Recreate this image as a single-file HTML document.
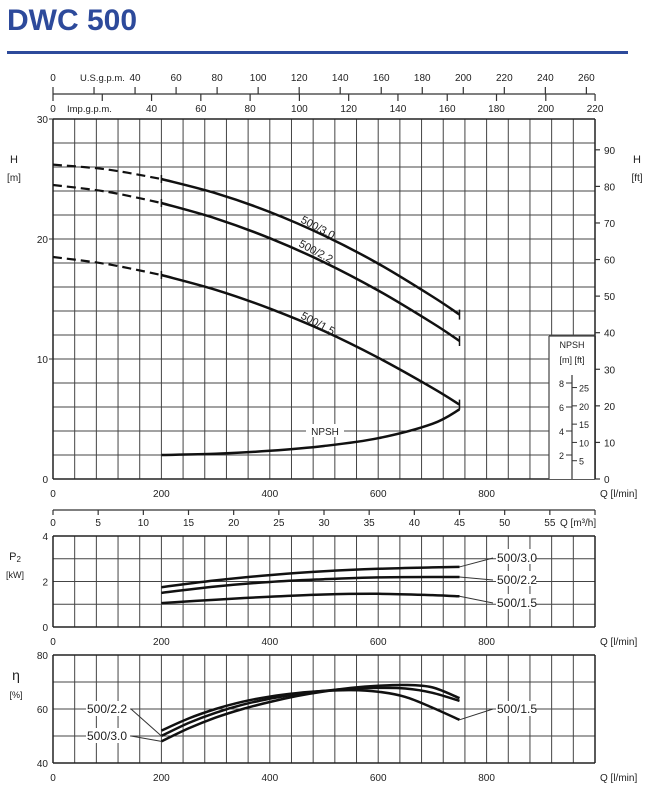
<!DOCTYPE html>
<html><head><meta charset="utf-8"><style>
html,body{margin:0;padding:0;background:#fff;width:654px;height:800px;overflow:hidden}
svg{display:block}
text{font-family:"Liberation Sans",sans-serif;fill:#222}
</style></head><body>
<svg id="s" width="654" height="800" viewBox="0 0 654 800" xmlns="http://www.w3.org/2000/svg">
<text x="7" y="30" style="font-size:30px;font-weight:bold;fill:#2d4a9b">DWC 500</text>
<rect x="7" y="51" width="621" height="3" fill="#2d4a9b"/>
</svg>
<script>
var s=document.getElementById('s'),o='';
var X0=53,X1=595,kx=0.542;
function qx(q){return X0+kx*q}
function L(x1,y1,x2,y2,w,c){o+='<line x1="'+x1+'" y1="'+y1+'" x2="'+x2+'" y2="'+y2+'" stroke="'+(c||'#333')+'" stroke-width="'+(w||1)+'"/>';}
function T(x,y,t,sz,a){o+='<text x="'+x+'" y="'+y+'" font-size="'+(sz||10)+'" text-anchor="'+(a||'middle')+'">'+t+'</text>';}
function P(p,w,dash){var d='M'+p[0][0].toFixed(1)+','+p[0][1].toFixed(1);
 for(var i=0;i<p.length-1;i++){var a=p[i-1]||p[i],b=p[i],c=p[i+1],e=p[i+2]||c;
  d+=' C'+(b[0]+(c[0]-a[0])/6).toFixed(1)+','+(b[1]+(c[1]-a[1])/6).toFixed(1)+' '+(c[0]-(e[0]-b[0])/6).toFixed(1)+','+(c[1]-(e[1]-b[1])/6).toFixed(1)+' '+c[0].toFixed(1)+','+c[1].toFixed(1);}
 o+='<path d="'+d+'" fill="none" stroke="#111" stroke-width="'+(w||2.5)+'" stroke-linejoin="round"'+(dash?' stroke-dasharray="'+dash+'"':'')+'/>';}
function grid(yt,yb,dy){for(var i=0;i<=25;i++){var x=X0+i*542/25;L(x,yt,x,yb,1,'#444');}for(var y=yt;y<=yb+0.5;y+=dy)L(X0,y,X1,y,1,'#444');L(X0,yt,X0,yb,1.5,'#222');L(X0,yb,X1,yb,1.5,'#222');L(X1,yt,X1,yb,1.5,'#222');L(X0,yt,X1,yt,1.5,'#222');}
// top axes
L(X0,94,X1,94,1.2);
var us=[0,40,60,80,100,120,140,160,180,200,220,240,260];
for(var v=0;v<=260;v+=20){var x=X0+v*3.785*kx;L(x,94,x,87,1.2);}
us.forEach(function(v){if(v==0)return;T(X0+v*3.785*kx,81,v);});T(X0,81,'0');T(80,81,'U.S.g.p.m.',9.5,'start');
for(var v=0;v<=220;v+=20){var x=X0+v*4.546*kx;L(x,94,x,101,1.2);}
[40,60,80,100,120,140,160,180,200,220].forEach(function(v){T(X0+v*4.546*kx,112,v);});T(X0,112,'0');T(67,112,'Imp.g.p.m.',9.5,'start');
// main grid
grid(119,479,24);
T(48,123,'30',10,'end');T(48,243,'20',10,'end');T(48,363,'10',10,'end');T(48,483,'0',10,'end');
L(X0-4,119,X0,119);L(X0-4,239,X0,239);L(X0-4,359,X0,359);
T(14,163,'H',11);T(14,181,'[m]',10);
for(var f=0;f<=90;f+=10){var y=479-f*0.3048*12;L(X1,y,X1+5,y,1.2);T(X1+9,y+4,f,10,'start');}
T(637,163,'H',11);T(637,181,'[ft]',10);
[0,200,400,600,800].forEach(function(q){T(qx(q),497,q);});
T(600,497,'Q [l/min]',10,'start');
// NPSH box
o+='<rect x="549" y="336" width="46" height="143" fill="#fff"/>';
L(549,336,549,479,1.2,'#444');L(549,336,595,336,1.2,'#444');L(X1,336,X1,479,1.5,'#222');
T(572,348,'NPSH',9);T(572,363,'[m]  [ft]',9);
L(572,375,572,479,1.2);
[2,4,6,8].forEach(function(m){var y=479-m*12;L(566,y,572,y);T(564,y+4,m,9,'end');});
[5,10,15,20,25].forEach(function(f){var y=479-f*0.3048*12;L(572,y,577,y);T(579,y+4,f,9,'start');});
// m3/h axis
L(X0,510,X1,510,1.2);
for(var m=0;m<=60;m+=5){var x=qx(m*16.667);if(x>X1+1)break;L(x,510,x,515,1.2);if(m<=55)T(x,526,m);}
T(560,526,'Q [m³/h]',10,'start');
// curves
var xs=[0,100,200,300,400,500,600,700,750];
function curve(ys){return xs.map(function(q,i){return [qx(q),ys[i]]});}
var c30=curve([164.6,169.5,179,193.2,212,235.5,263.6,296.5,314.6]);
var c22=curve([185,191.8,203,218.4,238.2,262.2,290.5,323,341]);
var c15=curve([257,264.1,275,289.8,308.6,331,357.7,387.9,404.6]);
[c30,c22,c15].forEach(function(c){P(c.slice(0,3),2.2,'9,5');P(c.slice(2),2.5);
 L(c[2][0],c[2][1]-4,c[2][0],c[2][1]+4,1.5,'#111');L(c[8][0],c[8][1]-5,c[8][0],c[8][1]+5,1.5,'#111');});
P([[qx(200),455],[qx(300),453.8],[qx(400),450.8],[qx(500),446],[qx(600),438.2],[qx(700),423.8],[qx(750),409.4]],2.5);
o+='<g transform="translate(300,222) rotate(28)"><text font-size="11">500/3.0</text></g>';
o+='<g transform="translate(298,246) rotate(28)"><text font-size="11">500/2.2</text></g>';
o+='<g transform="translate(300,318) rotate(28)"><text font-size="11">500/1.5</text></g>';
o+='<rect x="306" y="424" width="38" height="13" fill="#fff"/>';T(325,435,'NPSH',10);
// P2 panel
grid(536,627,22.75);
[0,1,2,3,4].forEach(function(p){if(p%2==0)T(48,627-p*22.75+4,p,10,'end');});
T(15,560,'P<tspan font-size="8" dy="2">2</tspan>',11);T(15,578,'[kW]',9);
[0,200,400,600,800].forEach(function(q){T(qx(q),645,q);});T(600,645,'Q [l/min]',10,'start');
function pc(v){return [[200,v[0]],[300,v[1]],[400,v[2]],[500,v[3]],[600,v[4]],[700,v[5]],[750,v[6]]].map(function(p){return [qx(p[0]),627-p[1]*22.75]});}
P(pc([1.75,2.05,2.28,2.45,2.56,2.62,2.64]),2.5);
P(pc([1.5,1.78,1.98,2.1,2.18,2.2,2.2]),2.5);
P(pc([1.05,1.2,1.33,1.43,1.46,1.4,1.35]),2.5);
[[567,627-2.64*22.75,558],[567,627-2.2*22.75,580],[567,627-1.35*22.75,603]].forEach(function(a){
 o+='<rect x="496" y="'+(a[2]-9)+'" width="40" height="15" fill="#fff"/>';L(qx(750),a[1],493,a[2],1,'#333');T(497,a[2]+4,a[2]==558?'500/3.0':a[2]==580?'500/2.2':'500/1.5',12,'start');});
// eta panel
grid(655,763,27);
[40,60,80].forEach(function(e){T(48,763-(e-40)*2.7+4,e,10,'end');});
T(16,680,'η',14);o+='<text x="16" y="698" font-size="9" text-anchor="middle">[%]</text>';
[0,200,400,600,800].forEach(function(q){T(qx(q),781,q);});T(600,781,'Q [l/min]',10,'start');
function ec(v){return v.map(function(p){return [qx(p[0]),763-(p[1]-40)*2.7]});}
P(ec([[200,52],[250,56.5],[300,60],[350,62.7],[400,64.6],[450,65.9],[500,66.7],[550,67],[600,66.4],[650,64.5],[700,60.5],[750,56]]),2.5);
P(ec([[200,50],[250,54.8],[300,58.6],[350,61.6],[400,63.8],[450,65.5],[500,66.7],[550,67.5],[600,67.8],[650,67.6],[700,66],[750,63]]),2.5);
P(ec([[200,48],[250,52.8],[300,56.8],[350,60],[400,62.6],[450,64.8],[500,66.5],[550,67.8],[600,68.6],[650,68.9],[700,68],[750,64]]),2.5);
o+='<rect x="86" y="701" width="44" height="15" fill="#fff"/><rect x="86" y="728" width="44" height="15" fill="#fff"/>';
T(87,713,'500/2.2',12,'start');T(87,740,'500/3.0',12,'start');
L(131,709,qx(200),763-10*2.7,1,'#333');L(131,736,qx(200),763-8*2.7,1,'#333');
o+='<rect x="496" y="701" width="40" height="15" fill="#fff"/>';L(qx(750),763-16*2.7,493,709,1,'#333');T(497,713,'500/1.5',12,'start');
s.insertAdjacentHTML('beforeend',o);
</script>
</body></html>
